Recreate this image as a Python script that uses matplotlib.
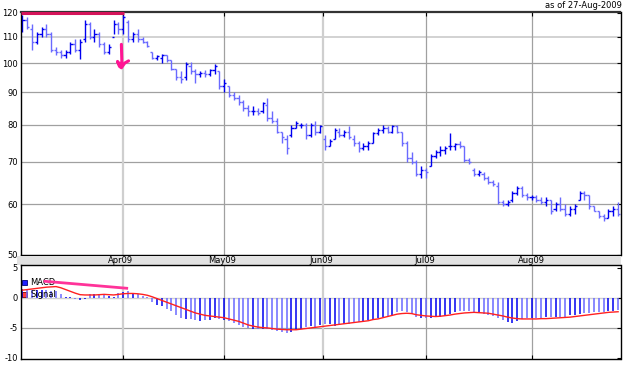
import numpy as np
import matplotlib
matplotlib.use("Agg")
import matplotlib.pyplot as plt
from matplotlib.patches import Rectangle

# ---------------- data ----------------
opens = [114,117,113,108,111,113,111,105,104,103,104,107,105,109,115,110,111,107,104,110,115,113,116,109,111,109,
         108,104,102,102,103,101,98,95,95,99,97,96,96.5,96,97.5,97,92,92,89,88,87,85,84,84,84,86,82,81,78,76,77,79,
         80,80,77,80,78,76,74,76,78,77,78,76,75,73.5,74,75,77.5,78.5,79,78,79.5,78,75,71,70,67,68,69,71.5,72.5,73,74,
         74,74.5,74,70.5,68,67,67,66,65,64,60.5,60,61,62.5,63.5,62,61.5,61.5,61,60.5,61,59,60,59,58,59,61,62.5,62,
         59.5,58.5,57.5,57,58.5,59]
highs = [119,118,115,112,114,115,112,106,105,105,108,109,109,117,116,113,112,108,107,117,116,119,117,112,113,110,
         108.5,104,103,103.5,103,101,98,97,100.5,100.5,98,97,97.5,98,99.5,97,94.5,92,90,89,87.5,86,85.5,85,87,88,84,
         82,78,77,80,81,80.5,80.5,80.5,81,80,77,76,79,79,78.5,79.5,77,75.5,75,75.5,78,79,80,79.5,80,80,78,75.5,72.5,
         70.5,69,68.5,72,73,74,74,77.5,75,75.5,74,71,68.5,68,67.5,66.5,65.5,65,61,61,63,64,64,62.5,62,62,61.5,61.5,
         61,60.5,61.5,60,59.5,60,63,63,62,59.5,58.5,58,59,59.5,60.5]
lows = [112,113,105,107,110,110,104,103,102,102,103.5,104,101.5,108,109,108,106,103.5,103.5,111,111,111,108,108,
        108,107.5,106,101.5,101,100,100.5,97.5,94,93,94,96,93,95,95,95.5,96,91,90,88.5,87.5,86,84,82.5,83,83,83.5,
        81,80.5,77.5,75,72,76.5,79,79,76,76.5,77,77.5,73,74,76,76.5,76.5,76,74,72.5,73,73,75,77,77.5,77.5,77.5,77.5,
        74,70,69.5,66.5,66,66,69,71,71.5,72,73,73,73.5,70,69.5,66.5,66.5,65.5,64.5,64,60,59.5,59.5,60.5,62,61.5,61,
        61,60.5,60,59.5,58,58.5,58.5,57.5,57.5,58,61,61,59,58.5,57,56.5,57,57.5,57.5]
closes = [117,114,108,111,113,111,105,104,103,104,107,105,108,115,110,111,107,104,106,115,113,118,109,111,109,108,
          106.5,102,102.5,103,101,98,95,94.5,99.5,97,96,96.5,96,97.5,99,92,93,89,88,87,85,84,84,83.5,86.5,82,81,78,
          76.5,73.5,79,80.5,80,77,80,78,79.5,74,75.5,78.5,77,78,76.5,75,73.5,74,75,77.5,78.5,79,78,79.5,78,75,71,70,
          67,68,67.5,71.5,72.5,73,73.5,74,74.5,74,70.5,70,67,67.5,66,65,64.5,60.5,60,60.5,62.5,63.5,62,61.5,61.5,61,
          60.5,61,58.5,60,59,58,59,59.5,62.5,62,59.5,58.5,57.5,57,58.5,59,58]

macd = [1.5,1.5,1.4,1.4,1.3,1.3,1.2,1.2,0.6,0.2,0.1,-0.2,-0.4,-0.2,0.6,0.6,0.7,0.6,0.3,0.2,0.8,1.0,1.1,0.8,0.6,0.3,
        0.1,-0.7,-1.1,-1.4,-1.8,-2.2,-2.8,-3.4,-3.5,-3.5,-3.6,-3.8,-3.7,-3.6,-3.4,-3.5,-3.7,-3.9,-4.2,-4.5,-4.8,
        -5.0,-5.1,-5.1,-5.1,-5.1,-5.3,-5.5,-5.7,-5.9,-5.6,-5.4,-5.2,-4.8,-4.7,-4.8,-4.5,-4.3,-4.4,-4.6,-4.5,-4.3,
        -4.3,-4.0,-4.0,-3.9,-3.7,-3.7,-3.4,-3.1,-3.0,-2.9,-2.3,-2.1,-2.3,-2.6,-3.1,-3.3,-3.3,-3.4,-3.2,-3.1,-2.9,
        -2.6,-2.4,-2.2,-2.1,-2.2,-2.4,-2.5,-2.6,-2.8,-3.0,-3.4,-3.7,-4.0,-4.1,-3.8,-3.5,-3.4,-3.4,-3.4,-3.3,-3.2,
        -3.2,-3.2,-3.2,-3.1,-2.9,-2.8,-2.6,-2.5,-2.5,-2.4,-2.3,-2.3,-2.2,-2.1,-2.0]
signal = [1.3,1.4,1.5,1.6,1.7,1.8,1.85,1.9,1.7,1.4,1.1,0.8,0.55,0.5,0.5,0.5,0.55,0.6,0.55,0.5,0.6,0.7,0.75,0.75,0.7,
          0.6,0.45,0.2,-0.1,-0.4,-0.7,-1.0,-1.3,-1.6,-1.9,-2.2,-2.5,-2.7,-2.9,-3.0,-3.1,-3.2,-3.3,-3.5,-3.7,-3.9,
          -4.2,-4.5,-4.7,-4.85,-4.95,-5.0,-5.1,-5.2,-5.25,-5.3,-5.3,-5.3,-5.2,-5.1,-5.0,-4.9,-4.8,-4.7,-4.6,-4.5,
          -4.4,-4.3,-4.2,-4.1,-4.0,-3.9,-3.8,-3.6,-3.5,-3.3,-3.1,-2.9,-2.7,-2.6,-2.55,-2.6,-2.8,-2.9,-3.0,-3.05,
          -3.1,-3.05,-2.95,-2.85,-2.7,-2.6,-2.5,-2.45,-2.4,-2.45,-2.5,-2.55,-2.7,-2.85,-3.0,-3.2,-3.35,-3.45,-3.5,
          -3.5,-3.5,-3.5,-3.45,-3.45,-3.4,-3.35,-3.3,-3.25,-3.2,-3.1,-3.0,-2.9,-2.8,-2.7,-2.6,-2.5,-2.4,-2.35,-2.3]

month_labels = ["Apr09", "May09", "Jun09", "Jul09", "Aug09"]
month_idx = [21, 42, 62.5, 84, 106]
price_ticks = [50, 60, 70, 80, 90, 100, 110, 120]
macd_ticks = [-10, -5, 0, 5]

# hand-drawn annotations (index, value)
ann_top_x = [-0.4, 21.1]
ann_top_y = [120, 120]
ann_arrow_x = [20.6, 20.7, 20.3, 19.8, 20.2, 20.6, 21.3, 22.1]
ann_arrow_y = [107.0, 100.5, 99.0, 100.6, 98.8, 98.3, 100.0, 100.8]
ann_macd_x = [4.4, 22.0]
ann_macd_y = [2.8, 1.6]

# ---------------- drawing ----------------
W, H = 625, 371
fig = plt.figure(figsize=(W / 100, H / 100), dpi=100)
fs = 6

idx = np.arange(len(closes))
dark = "#0000f0"
light = "#6a6aff"
cols = [dark if c >= o else light for o, c in zip(opens, closes)]
xl = (-0.4, 124.5)

def fr(l, t, r, b):
    return [l / W, 1 - b / H, (r - l) / W, (b - t) / H]

ax = fig.add_axes(fr(20.5, 12, 620.5, 254.5))
ax.set_yscale("log")
ax.set_ylim(50, 120.3)
ax.set_xlim(*xl)
for p in price_ticks:
    if p == 110:
        ax.axhline(p, color="#cfcfcf", lw=1.3, zorder=0)
    elif p not in (50, 120):
        ax.axhline(p, color="#a0a0a0", lw=0.9, zorder=0)
for m, pos in zip(month_labels, month_idx):
    if m in ("Apr09", "Jun09"):
        ax.axvline(pos, color="#cfcfcf", lw=1.6, zorder=0)
    else:
        ax.axvline(pos, color="#a0a0a0", lw=0.9, zorder=0)
ax.vlines(idx, lows, highs, colors=cols, lw=1.0)
ax.hlines(opens, idx - 0.45, idx, colors=cols, lw=1.0)
ax.hlines(closes, idx, idx + 0.45, colors=cols, lw=1.0)
ax.set_yticks(price_ticks)
ax.set_yticklabels([str(p) for p in price_ticks], fontsize=fs)
ax.yaxis.set_minor_locator(matplotlib.ticker.NullLocator())
ax.tick_params(axis="y", which="both", left=False, right=True, direction="in", length=3, pad=2,
               labelleft=True)
ax.set_xticks(month_idx)
ax.tick_params(axis="x", top=True, bottom=False, direction="in", length=3, labelbottom=False)
for s in ax.spines.values():
    s.set_color("black")
    s.set_linewidth(1.0)
ax.spines["top"].set_linewidth(1.6)
ax.spines["top"].set_color("#333333")
ax.plot(ann_top_x, ann_top_y, color="#d4145a", lw=2.2, solid_capstyle="butt", clip_on=False, zorder=5)
ax.plot(ann_arrow_x, ann_arrow_y, color="#ff1493", lw=2.2, solid_capstyle="round", zorder=5)

# date band
band = fig.add_axes(fr(17, 255.5, 620.5, 265))
band.set_facecolor("#e2e2e2")
band.set_xlim(*xl)
band.set_ylim(0, 1)
band.set_xticks([]); band.set_yticks([])
for s in band.spines.values():
    s.set_visible(False)
for m, pos in zip(month_labels, month_idx):
    band.text(pos, 0.45, m, ha="center", va="center", fontsize=fs)

# MACD panel
ax2 = fig.add_axes(fr(20.5, 265, 620.5, 358.5))
ax2.set_xlim(*xl)
ax2.set_ylim(-10.1, 5.5)
ax2.axhline(0, color="#d0d0d0", lw=1.0, zorder=0)
ax2.axhline(-5, color="#a0a0a0", lw=0.9, zorder=0)
for m, pos in zip(month_labels, month_idx):
    if m in ("Apr09", "Jun09"):
        ax2.axvline(pos, color="#cfcfcf", lw=1.6, zorder=0)
    else:
        ax2.axvline(pos, color="#a0a0a0", lw=0.9, zorder=0)
ax2.vlines(idx, 0, macd, colors=cols, lw=1.1)
ax2.plot(idx, signal, color="#ff2020", lw=1.0)
ax2.set_yticks(macd_ticks)
ax2.set_yticklabels([str(v) for v in macd_ticks], fontsize=fs)
ax2.tick_params(axis="y", left=False, right=True, direction="in", length=3, pad=2)
ax2.set_xticks(month_idx)
ax2.tick_params(axis="x", top=False, bottom=True, direction="in", length=3, labelbottom=False)
for s in ax2.spines.values():
    s.set_color("black")
    s.set_linewidth(1.0)
ax2.plot(ann_macd_x, ann_macd_y, color="#ff3399", lw=2.0, solid_capstyle="butt", zorder=5)

# legend
ax2.add_patch(Rectangle((0.003, 0.79), 0.008, 0.05, transform=ax2.transAxes,
                        facecolor="#2020ff", edgecolor="#000080", lw=0.6, clip_on=False))
ax2.text(0.016, 0.815, "MACD", transform=ax2.transAxes, fontsize=fs, va="center")
ax2.add_patch(Rectangle((0.003, 0.66), 0.008, 0.05, transform=ax2.transAxes,
                        facecolor="#ff4040", edgecolor="#800000", lw=0.6, clip_on=False))
ax2.text(0.016, 0.685, "Signal", transform=ax2.transAxes, fontsize=fs, va="center")

fig.text(622 / W, 1 - 5 / H, "as of 27-Aug-2009", ha="right", va="center", fontsize=fs)

fig.savefig("out.png", dpi=100)
